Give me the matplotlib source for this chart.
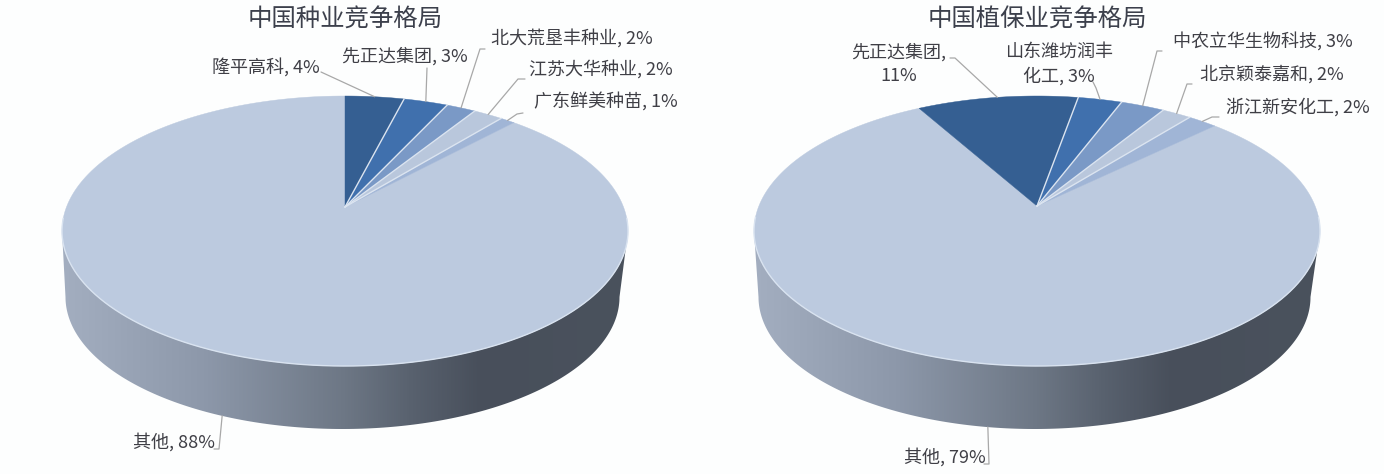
import numpy as np
import matplotlib
matplotlib.use("Agg")
import matplotlib.pyplot as plt
from matplotlib.patches import Polygon, PathPatch
from matplotlib.path import Path
from matplotlib.colors import LinearSegmentedColormap

plt.rcParams['font.family'] = ['Noto Sans CJK SC', 'DejaVu Sans']

# Data
seed_title = '中国种业竞争格局'
seed_names = ['隆平高科', '先正达集团', '北大荒垦丰种业', '江苏大华种业', '广东鲜美种苗', '其他']
seed_values = [4, 3, 2, 2, 1, 88]
crop_title = '中国植保业竞争格局'
crop_names = ['先正达集团', '山东潍坊润丰化工', '中农立华生物科技', '北京颖泰嘉和', '浙江新安化工', '其他']
crop_values = [11, 3, 3, 2, 2, 79]

# Styles
slice_colors = ['#355f92', '#4070ad', '#7a99c6', '#b9c7dc', '#a0b5d6', '#bccadf']
side_cmap = LinearSegmentedColormap.from_list(
    'side', [(0, '#a3aec0'), (0.25, '#8d98aa'), (0.5, '#6d7785'), (0.62, '#58616e'),
             (0.74, '#484f5b'), (1, '#4a525d')])
TEXT = '#3f3f46'
LEAD = '#a8a8a8'

fig = plt.figure(figsize=(13.84, 4.74), dpi=100, facecolor='#fdfefe')
ax = fig.add_axes([0, 0, 1, 1])
ax.set_xlim(0, 1384)
ax.set_ylim(474, 0)
ax.axis('off')


def draw_pie(values, cx, cy, a, b, apex_up, low_cx, low_a, low_cy, low_b, start, labels, title, title_x):
    C = apex_up / b
    D = a * np.sqrt(1 - C ** 2)

    def project(deg):
        t = np.radians(deg)
        u, v = np.sin(t), np.cos(t)
        w = 1 + C * v
        return cx + D * u / w, cy - (b * v + apex_up) / w

    apex = (cx, cy - apex_up)
    # side wall with a horizontal gradient
    th = np.linspace(0, np.pi, 200)
    top_l, top_r = (cx - a, cy), (cx + a, cy)
    low = np.column_stack([low_cx + low_a * np.cos(th), low_cy + low_b * np.sin(th)])
    verts = np.vstack([[top_r], low, [top_l], [top_r]])
    clip = PathPatch(Path(verts, closed=True), fc='none', ec='none', transform=ax.transData)
    ax.add_patch(clip)
    ramp = np.linspace(0, 1, 512).reshape(1, -1)
    im = ax.imshow(ramp, cmap=side_cmap, aspect='auto', zorder=1,
                   extent=(cx - a, cx + a, low_cy + low_b, cy))
    im.set_clip_path(clip)
    ax.set_xlim(0, 1384)
    ax.set_ylim(474, 0)

    # top face
    edges = start + np.cumsum([0] + list(values)) * 3.6
    mids = (edges[:-1] + edges[1:]) / 2
    last = len(values) - 1
    for i in range(last, -1, -1):
        arc = np.linspace(edges[i], edges[i + 1], 300)
        pts = np.array([project(d) for d in arc])
        poly = np.vstack([[apex], pts])
        ax.add_patch(Polygon(poly, closed=True, fc=slice_colors[i], ec=slice_colors[i], lw=0.3, zorder=2))
    # pale separators between the named slices
    for d in edges[1:last]:
        ex, ey = project(d)
        ax.plot([apex[0], ex], [apex[1], ey], color='#dbe4f0', lw=1.0, zorder=2.5)
    # pale rim on the front of the top face
    rim = np.array([project(d) for d in np.linspace(95, 265, 300)])
    ax.plot(rim[:, 0], rim[:, 1], color='#d9e3f0', lw=1.0, zorder=2.5)

    # labels and leader lines
    for i, (lines, tx, ty, ha, elbow) in enumerate(labels):
        ex, ey = project(mids[i])
        if i == last:
            ey += low_cy + low_b - (cy + b)
        ax.text(tx, ty, lines, ha=ha, va='center', ma='center', fontsize=13, color=TEXT,
                linespacing=1.4, zorder=4)
        xs = [p[0] for p in elbow] + [ex]
        ys = [p[1] for p in elbow] + [ey]
        ax.plot(xs, ys, color=LEAD, lw=0.9, zorder=3, solid_capstyle='round')

    ax.text(title_x, 20, title, ha='center', va='center', fontsize=17.6, color='#3c404c', zorder=4)


def text_of(names, values, i):
    return f'{names[i]}, {values[i]}%'


seed_labels = [
    (text_of(seed_names, seed_values, 0), 212, 67, 'left', [(321, 72)]),
    (text_of(seed_names, seed_values, 1), 342, 56, 'left', [(427, 68)]),
    (text_of(seed_names, seed_values, 2), 491, 38, 'left', [(485, 49), (480, 49)]),
    (text_of(seed_names, seed_values, 3), 529, 69, 'left', [(525, 79), (518, 79)]),
    (text_of(seed_names, seed_values, 4), 534, 101, 'left', [(523, 113), (517, 114)]),
    (text_of(seed_names, seed_values, 5), 133, 442, 'left', [(214, 449), (219, 449)]),
]
crop_labels = [
    (f'{crop_names[0]},\n{crop_values[0]}%', 899, 64, 'center', [(950, 58), (955, 58)]),
    (f'{crop_names[1][:6]}\n{crop_names[1][6:]}, {crop_values[1]}%', 1059, 64, 'center', [(1093, 82), (1096, 88)]),
    (text_of(crop_names, crop_values, 2), 1173, 41, 'left', [(1162, 51), (1157, 51)]),
    (text_of(crop_names, crop_values, 3), 1200, 74, 'left', [(1192, 84), (1187, 84)]),
    (text_of(crop_names, crop_values, 4), 1226, 107, 'left', [(1219, 117), (1212, 117)]),
    (text_of(crop_names, crop_values, 5), 904, 457, 'left', [(984, 464), (989, 464)]),
]

draw_pie(seed_values, 345, 231, 283, 135, 24, 342.5, 277, 297, 132, 0, seed_labels, seed_title, 345.5)
draw_pie(crop_values, 1037, 231, 283, 135, 25, 1034.5, 276, 297, 132, -29.5, crop_labels, crop_title, 1037)

fig.savefig('out.png', dpi=100, facecolor=fig.get_facecolor())
